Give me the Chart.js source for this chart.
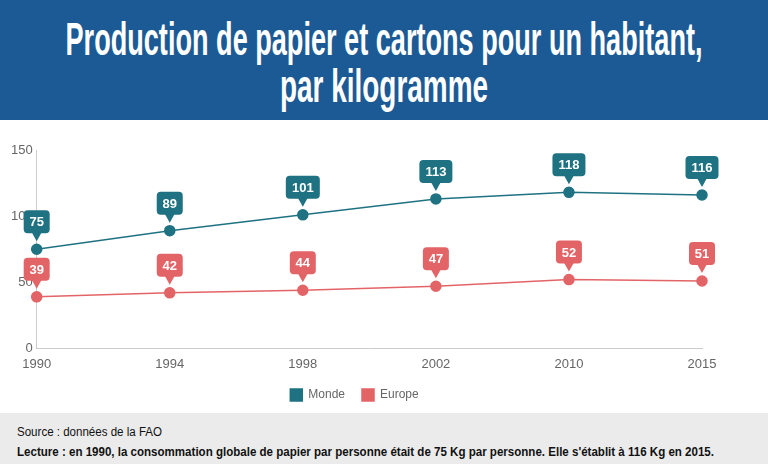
<!DOCTYPE html>
<html>
<head>
<meta charset="utf-8">
<script src="https://cdn.jsdelivr.net/npm/chart.js@4"></script>
<style>
  html, body { margin: 0; padding: 0; width: 768px; height: 464px; overflow: hidden; background: #fff; }
  body { position: relative; }
  #header {
    height: 120px; background: #1c5a96; color: #fff;
    font-family: "Liberation Sans", sans-serif; font-weight: bold; font-size: 46px;
    line-height: 47px; padding-top: 16px; box-sizing: border-box; white-space: nowrap;
  }
  .line { position: relative; height: 47px; }
  .line .fit { position: absolute; left: 50%; top: 0; transform-origin: center center; }
  #chartBox { position: relative; width: 768px; height: 303px; }
  #footer {
    position: absolute; left: 0; top: 413px; width: 768px;
    height: 51px; background: #ebebeb; font-family: "Liberation Sans", sans-serif;
    font-size: 12px; color: #111; padding: 9px 0 0 17px; box-sizing: border-box; line-height: 20px; white-space: nowrap;
  }
  #footer .fit { display: inline-block; transform-origin: left center; }
</style>
</head>
<body>
<div id="header">
  <div class="line"><span class="fit" data-w="637">Production de papier et cartons pour un habitant,</span></div>
  <div class="line"><span class="fit" data-w="208">par kilogramme</span></div>
</div>
<div id="chartBox"><canvas id="chart"></canvas></div>
<div id="footer"><span class="fit" data-w="145">Source : données de la FAO</span><br><b class="fit" data-w="697">Lecture : en 1990, la consommation globale de papier par personne était de 75 Kg par personne. Elle s'établit à 116 Kg en 2015.</b></div>
<script>
// squeeze text lines horizontally to mimic the condensed fonts of the original
document.querySelectorAll(".fit").forEach(el => {
    const w = el.getBoundingClientRect().width;
    const k = Number(el.dataset.w) / w;
    el.style.transform = el.closest(".line")
        ? "translateX(-50%) scaleX(" + k + ")"
        : "scaleX(" + k + ")";
});

const years = ["1990", "1994", "1998", "2002", "2010", "2015"];
const monde = [75, 89, 101, 113, 118, 116];
const europe = [39, 42, 44, 47, 52, 51];
const seriesNames = ["Monde", "Europe"];
const seriesColors = ["#1f7282", "#e36467"];

// callout labels above each point
const calloutPlugin = {
    id: "callouts",
    afterDatasetsDraw(chart) {
        const ctx = chart.ctx;
        ctx.save();
        ctx.font = "bold 13px 'Liberation Sans', Arial, sans-serif";
        ctx.textAlign = "center";
        ctx.textBaseline = "middle";
        chart.data.datasets.forEach((ds, i) => {
            const meta = chart.getDatasetMeta(i);
            meta.data.forEach((pt, j) => {
                const txt = String(ds.data[j]);
                const w = Math.round(ctx.measureText(txt).width) + 12;
                const h = 23;
                const tipY = pt.y - 8;
                const bottom = pt.y - 16;
                const top = bottom - h;
                const left = pt.x - w / 2;
                ctx.fillStyle = ds.borderColor;
                ctx.beginPath();
                ctx.roundRect(left, top, w, h, 4);
                ctx.fill();
                ctx.beginPath();
                ctx.moveTo(pt.x - 5, bottom - 1);
                ctx.lineTo(pt.x + 5, bottom - 1);
                ctx.lineTo(pt.x, tipY);
                ctx.closePath();
                ctx.fill();
                ctx.fillStyle = "#fff";
                ctx.fillText(txt, pt.x, top + h / 2 + 1);
            });
        });
        ctx.restore();
    }
};

new Chart(document.getElementById("chart"), {
    type: "line",
    plugins: [calloutPlugin],
    data: {
        labels: years,
        datasets: [
            {
                label: seriesNames[0],
                data: monde,
                borderColor: seriesColors[0],
                backgroundColor: seriesColors[0],
                borderWidth: 1.5,
                pointRadius: 5,
                pointHoverRadius: 5,
                tension: 0
            },
            {
                label: seriesNames[1],
                data: europe,
                borderColor: seriesColors[1],
                backgroundColor: seriesColors[1],
                borderWidth: 1.5,
                pointRadius: 5,
                pointHoverRadius: 5,
                tension: 0
            }
        ]
    },
    options: {
        responsive: true,
        maintainAspectRatio: false,
        animation: false,
        layout: { padding: { top: 30, right: 66, left: 7, bottom: 12 } },
        plugins: {
            tooltip: { enabled: false },
            legend: {
                position: "bottom",
                labels: {
                    boxWidth: 12, boxHeight: 12, padding: 17,
                    color: "#666",
                    font: { family: "'Liberation Sans', sans-serif", size: 12 }
                }
            }
        },
        scales: {
            x: {
                offset: false,
                grid: { display: false },
                border: { display: true, color: "#ccc", dash: [4, 4] },
                ticks: { color: "#666", padding: 0, maxRotation: 0, font: { family: "'Liberation Sans', sans-serif", size: 13 } }
            },
            y: {
                min: 0, max: 150,
                grid: { display: false, drawTicks: false },
                border: { display: true, color: "#ccc", dash: [4, 4] },
                ticks: { stepSize: 50, color: "#666", padding: 4, font: { family: "'Liberation Sans', sans-serif", size: 13 } }
            }
        }
    }
});
</script>
</body>
</html>
